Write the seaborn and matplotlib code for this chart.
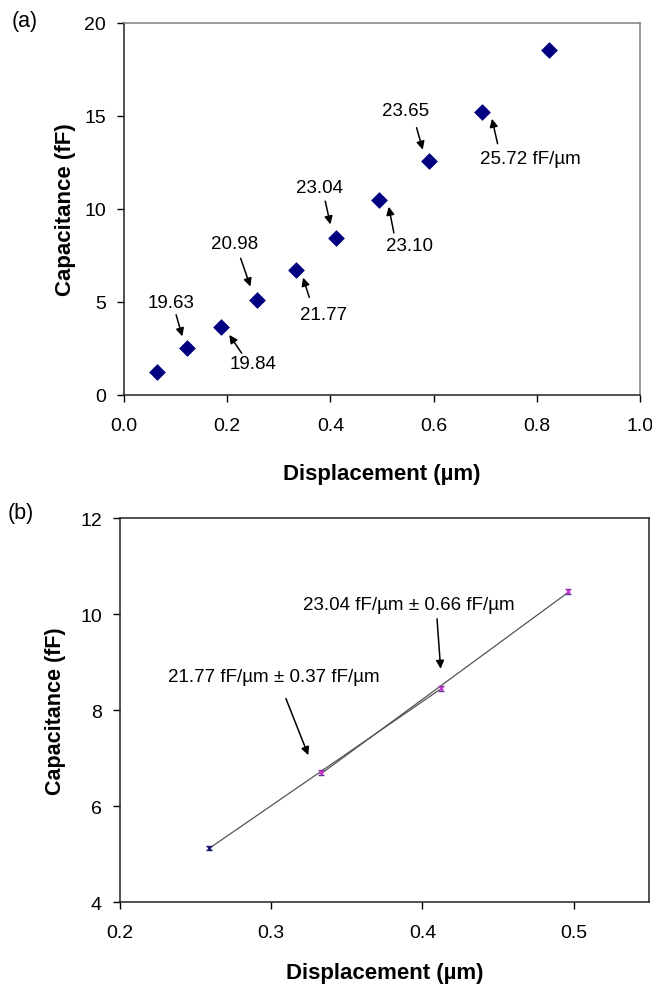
import numpy as np
import pandas as pd
import matplotlib
matplotlib.use("Agg")
import matplotlib.pyplot as plt
import seaborn as sns

# ---------------- data ----------------
disp_a = [0.063, 0.123, 0.188, 0.258, 0.333, 0.410, 0.494, 0.592, 0.694, 0.823]
cap_a = [1.23, 2.52, 3.68, 5.11, 6.72, 8.45, 10.49, 12.58, 15.20, 18.53]

slope_labels = ["19.63", "19.84", "20.98", "21.77", "23.04", "23.10", "23.65", "25.72 fF/\u00b5m"]
slope_text_xy = [(0.092, 4.99), (0.250, 1.68), (0.214, 8.15), (0.386, 4.34),
                 (0.378, 11.13), (0.553, 8.03), (0.546, 15.27), (0.787, 12.74)]
slope_arrow_from = [(0.101, 4.31), (0.228, 2.25), (0.226, 7.35), (0.359, 5.25),
                    (0.390, 10.42), (0.523, 8.72), (0.567, 14.37), (0.724, 13.51)]
slope_arrow_to = [(0.113, 3.15), (0.204, 3.23), (0.245, 5.83), (0.347, 6.31),
                  (0.400, 9.17), (0.513, 10.12), (0.579, 13.19), (0.713, 14.85)]

disp_b = [0.259, 0.333, 0.412, 0.496]
cap_b = [5.13, 6.70, 8.45, 10.47]
err_b = [0.04, 0.05, 0.05, 0.05]
fit_labels_b = ["21.77 fF/\u00b5m \u00b1 0.37 fF/\u00b5m", "23.04 fF/\u00b5m \u00b1 0.66 fF/\u00b5m"]
fit_text_xy = [(0.302, 8.69), (0.391, 10.19)]
fit_arrow_from = [(0.3097, 8.24), (0.4096, 9.90)]
fit_arrow_to = [(0.3245, 7.06), (0.412, 8.86)]

xticks_a = [0.0, 0.2, 0.4, 0.6, 0.8, 1.0]
yticks_a = [0, 5, 10, 15, 20]
xticks_b = [0.2, 0.3, 0.4, 0.5]
yticks_b = [4, 6, 8, 10, 12]

# ---------------- style ----------------
sns.set_style("ticks")
plt.rcParams["font.family"] = ["Liberation Sans", "DejaVu Sans"]
plt.rcParams["xtick.direction"] = "out"
plt.rcParams["ytick.direction"] = "out"
plt.rcParams["text.color"] = "black"
plt.rcParams["axes.labelcolor"] = "black"
plt.rcParams["xtick.color"] = "black"
plt.rcParams["ytick.color"] = "black"

fig = plt.figure(figsize=(6.52, 9.87), dpi=100)
ax1 = fig.add_axes([0.1902, 0.5988, 0.7914, 0.3769])
ax2 = fig.add_axes([0.184, 0.0851, 0.812, 0.389])

tick_fs = 14
lab_fs = 16
ann_fs = 13.5
arrow_kw = dict(arrowstyle="-|>", color="black", lw=1.1, mutation_scale=12,
                shrinkA=0, shrinkB=0)

# ---------------- panel (a) ----------------
df_a = pd.DataFrame({"x": disp_a, "y": cap_a})
sns.scatterplot(data=df_a, x="x", y="y", ax=ax1, marker="D", s=64,
                color="#000080", edgecolor="#000080", linewidth=0.5, zorder=3)
for lab, txy, afrom, ato in zip(slope_labels, slope_text_xy, slope_arrow_from, slope_arrow_to):
    ax1.text(txy[0], txy[1], lab, ha="center", va="center", fontsize=ann_fs, color="black")
    ax1.annotate("", xy=ato, xytext=afrom, arrowprops=arrow_kw)
ax1.set_xlim(0, 1.0)
ax1.set_ylim(0, 20)
ax1.set_xticks(xticks_a)
ax1.set_xticklabels([f"{v:.1f}" for v in xticks_a])
ax1.set_yticks(yticks_a)
ax1.set_xlabel("Displacement (\u00b5m)", fontsize=lab_fs, fontweight="bold", labelpad=21)
ax1.set_ylabel("Capacitance (fF)", fontsize=lab_fs, fontweight="bold", labelpad=6)

# ---------------- panel (b) ----------------
df_b = pd.DataFrame({"x": disp_b, "y": cap_b})
sns.regplot(data=df_b.iloc[0:3], x="x", y="y", ax=ax2, ci=None, scatter=False,
            truncate=True, line_kws=dict(color="#555555", lw=0.9))
sns.regplot(data=df_b.iloc[1:4], x="x", y="y", ax=ax2, ci=None, scatter=False,
            truncate=True, line_kws=dict(color="#555555", lw=0.9))
ax2.errorbar(disp_b[:1], cap_b[:1], yerr=err_b[:1], fmt="x", ms=3.5, color="#1a1a6e",
             ecolor="#1a1a6e", capsize=2.5, lw=0.8, zorder=4)
ax2.errorbar(disp_b[1:], cap_b[1:], yerr=err_b[1:], fmt="x", ms=3.5, color="#CC33CC",
             ecolor="#663399", capsize=2.5, lw=0.8, zorder=4)
for lab, txy, afrom, ato in zip(fit_labels_b, fit_text_xy, fit_arrow_from, fit_arrow_to):
    ax2.text(txy[0], txy[1], lab, ha="center", va="center", fontsize=ann_fs, color="black")
    ax2.annotate("", xy=ato, xytext=afrom, arrowprops=arrow_kw)
ax2.set_xlim(0.2, 0.55)
ax2.set_ylim(4, 12)
ax2.set_xticks(xticks_b)
ax2.set_xticklabels([f"{v:.1f}" for v in xticks_b])
ax2.set_yticks(yticks_b)
ax2.set_xlabel("Displacement (\u00b5m)", fontsize=lab_fs, fontweight="bold", labelpad=15)
ax2.set_ylabel("Capacitance (fF)", fontsize=lab_fs - 0.5, fontweight="bold", labelpad=10)

for ax in (ax1, ax2):
    ax.tick_params(axis="x", labelsize=tick_fs, length=5, width=1.0, pad=11)
    ax.tick_params(axis="y", labelsize=tick_fs, length=5, width=1.0, pad=8)
    for s in ax.spines.values():
        s.set_visible(True)
        s.set_linewidth(1.1)
        s.set_color("#222222")

ax1.spines["top"].set_color("#808080")
ax1.spines["right"].set_color("#808080")

fig.text(0.018, 0.989, "(a)", fontsize=15.5, ha="left", va="top")
fig.text(0.012, 0.490, "(b)", fontsize=15.5, ha="left", va="top")

fig.savefig("out.png", dpi=100)
